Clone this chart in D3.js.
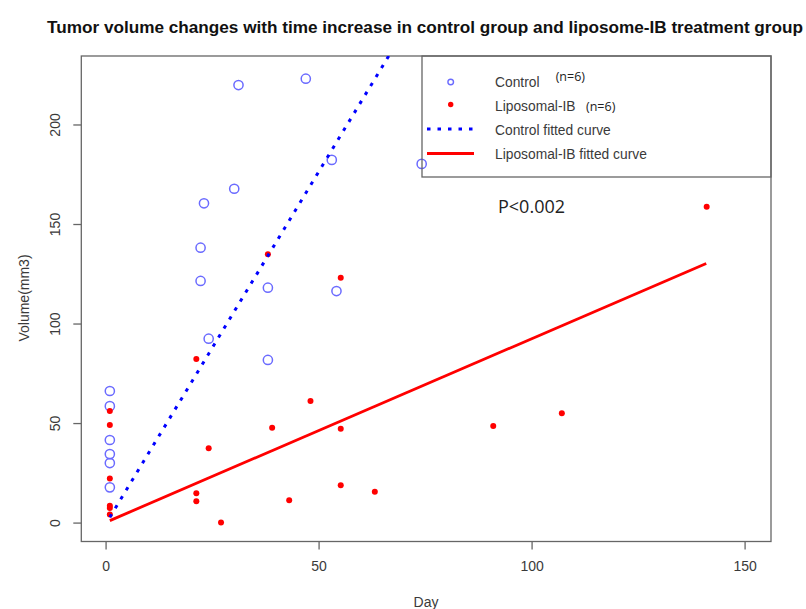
<!DOCTYPE html>
<html>
<head>
<meta charset="utf-8">
<script src="https://cdn.jsdelivr.net/npm/d3@7"></script>
<style>
  body { margin: 0; background: #fff; }
  svg { display: block; font-family: 'Liberation Sans', Arial, sans-serif; }
</style>
</head>
<body>
<svg id="chart" width="806" height="609"></svg>
<script>
// values
const controlDay = [1, 1, 1, 1, 1, 1, 31.2, 47, 53.1, 74.2, 30.2, 23.1, 22.3, 22.3, 38.1, 54.2, 24.2, 38.1];
const controlVolume = [66.1, 58.5, 41.5, 34.4, 29.9, 17.7, 219.8, 223, 182.2, 180.2, 167.7, 160.4, 138.1, 121.4, 118, 116.3, 92.4, 81.7];

const liposomalDay = [1, 1, 1, 1, 1, 1, 21.3, 21.3, 21.3, 24.2, 27.1, 38.1, 39.1, 43.1, 48.1, 55.2, 55.2, 55.2, 63.2, 91, 107.1, 141.1];
const liposomalVolume = [56, 49, 22.2, 8.5, 7.3, 4.1, 82.2, 14.7, 10.7, 37.4, 0, 134.8, 47.6, 11.2, 61.1, 123, 47.1, 18.7, 15.5, 48.5, 54.9, 158.7];

// fitted straight lines, end points
const fitDay = [1, 141];
const controlFitVolume = [2.7, 498.3];
const liposomalFitVolume = [1.0, 130.2];

const xTicks = [0, 50, 100, 150];
const yTicks = [0, 50, 100, 150, 200];

const legendLabels = ['Control', 'Liposomal-IB', 'Control fitted curve', 'Liposomal-IB fitted curve'];
const legendNotes = ['(n=6)', '(n=6)'];

const svg = d3.select('#chart');

const x = d3.scaleLinear().domain([-5.7, 156.2]).range([81.3, 771]);
const y = d3.scaleLinear().domain([-9.5, 234.4]).range([541.5, 56]);

const axisGrey = '#666',
  textGrey = '#3a3a3a',
  ctrlBlue = '#6b6bff';

svg.append('defs').append('clipPath')
  .attr('id', 'plotclip')
  .append('rect')
  .attr('x', x.range()[0])
  .attr('y', y.range()[1])
  .attr('width', x.range()[1] - x.range()[0])
  .attr('height', y.range()[0] - y.range()[1]);

// title
svg.append('text')
  .attr('x', 425)
  .attr('y', 33)
  .attr('text-anchor', 'middle')
  .attr('textLength', 756)
  .attr('lengthAdjust', 'spacingAndGlyphs')
  .style('font-size', '16px')
  .style('font-weight', 'bold')
  .style('fill', '#111')
  .text('Tumor volume changes with time increase in control group and liposome-IB treatment group');

// axes
const xAxis = svg.append('g')
  .attr('transform', 'translate(0,' + y.range()[0] + ')')
  .call(d3.axisBottom(x).tickValues(xTicks).tickSize(8).tickPadding(12));

const yAxis = svg.append('g')
  .attr('transform', 'translate(' + x.range()[0] + ',0)')
  .call(d3.axisLeft(y).tickValues(yTicks).tickSize(8));

[xAxis, yAxis].forEach(function(g) {
  g.select('.domain').remove();
  g.selectAll('line').attr('stroke', axisGrey).attr('stroke-width', 1.3);
  g.selectAll('text')
    .style('font-size', '14px')
    .style('font-family', "'Liberation Sans', Arial, sans-serif")
    .attr('fill', textGrey);
});

yAxis.selectAll('text')
  .attr('x', 0)
  .attr('y', 0)
  .attr('dy', '0.35em')
  .attr('text-anchor', 'middle')
  .attr('transform', 'translate(-26.3,0) rotate(-90)');

// plot box
svg.append('rect')
  .attr('x', x.range()[0])
  .attr('y', y.range()[1])
  .attr('width', x.range()[1] - x.range()[0])
  .attr('height', y.range()[0] - y.range()[1])
  .attr('fill', 'none')
  .attr('stroke', axisGrey)
  .attr('stroke-width', 1.3);

// axis titles
svg.append('text')
  .attr('x', 426)
  .attr('y', 602)
  .attr('dy', '0.35em')
  .attr('text-anchor', 'middle')
  .style('font-size', '14px')
  .style('fill', textGrey)
  .text('Day');

svg.append('text')
  .attr('transform', 'translate(24,298) rotate(-90)')
  .attr('dy', '0.35em')
  .attr('text-anchor', 'middle')
  .style('font-size', '14px')
  .style('fill', textGrey)
  .text('Volume(mm3)');

const plot = svg.append('g').attr('clip-path', 'url(#plotclip)');

// control points
plot.selectAll('circle.ctrl')
  .data(d3.zip(controlDay, controlVolume))
  .enter()
  .append('circle')
  .attr('class', 'ctrl')
  .attr('cx', function(d) { return x(d[0]); })
  .attr('cy', function(d) { return y(d[1]); })
  .attr('r', 4.6)
  .attr('fill', 'none')
  .attr('stroke', ctrlBlue)
  .attr('stroke-width', 1.5);

// liposomal points
plot.selectAll('circle.lipo')
  .data(d3.zip(liposomalDay, liposomalVolume))
  .enter()
  .append('circle')
  .attr('class', 'lipo')
  .attr('cx', function(d) { return x(d[0]); })
  .attr('cy', function(d) { return y(d[1]); })
  .attr('r', 3)
  .attr('fill', '#ff0000');

const line = d3.line()
  .x(function(d) { return x(d[0]); })
  .y(function(d) { return y(d[1]); });

plot.append('path')
  .attr('d', line(d3.zip(fitDay, controlFitVolume)))
  .attr('fill', 'none')
  .attr('stroke', '#0000ff')
  .attr('stroke-width', 3)
  .attr('stroke-dasharray', '3.5,7');

plot.append('path')
  .attr('d', line(d3.zip(fitDay, liposomalFitVolume)))
  .attr('fill', 'none')
  .attr('stroke', '#ff0000')
  .attr('stroke-width', 2.8);

// p value
svg.append('text')
  .attr('x', 498)
  .attr('y', 213)
  .attr('textLength', 67)
  .attr('lengthAdjust', 'spacingAndGlyphs')
  .style('font-family', "'Open Sans', 'Noto Sans', sans-serif")
  .style('font-size', '17.5px')
  .style('fill', '#222')
  .text('P<0.002');

// legend
const legend = svg.append('g');
legend.append('rect')
  .attr('x', 422)
  .attr('y', y.range()[1])
  .attr('width', x.range()[1] - 422)
  .attr('height', 121)
  .attr('fill', 'none')
  .attr('stroke', axisGrey)
  .attr('stroke-width', 1.3);

const rowY = [82, 106, 130, 154];

legend.append('circle')
  .attr('cx', 450.7).attr('cy', rowY[0]).attr('r', 2.8)
  .attr('fill', 'none').attr('stroke', ctrlBlue).attr('stroke-width', 1.4);
legend.append('circle')
  .attr('cx', 450.7).attr('cy', rowY[1] - 1.5).attr('r', 2.7)
  .attr('fill', '#ff0000');
legend.append('line')
  .attr('x1', 427).attr('x2', 474).attr('y1', rowY[2] - 1).attr('y2', rowY[2] - 1)
  .attr('stroke', '#0000ff').attr('stroke-width', 3).attr('stroke-dasharray', '3.5,7');
legend.append('line')
  .attr('x1', 427).attr('x2', 474).attr('y1', rowY[3] - 0.5).attr('y2', rowY[3] - 0.5)
  .attr('stroke', '#ff0000').attr('stroke-width', 2.8);

legend.selectAll('text.lab')
  .data(legendLabels)
  .enter()
  .append('text')
  .attr('class', 'lab')
  .attr('x', 495)
  .attr('y', function(d, i) { return rowY[i]; })
  .attr('dy', '0.35em')
  .style('font-size', '13.8px')
  .style('fill', textGrey)
  .text(function(d) { return d; });

const noteX = [555.7, 586];
const noteY = [76.5, 106.5];
legend.selectAll('text.note')
  .data(legendNotes)
  .enter()
  .append('text')
  .attr('class', 'note')
  .attr('x', function(d, i) { return noteX[i]; })
  .attr('y', function(d, i) { return noteY[i]; })
  .attr('dy', '0.35em')
  .style('font-family', "'Open Sans', 'Noto Sans', sans-serif")
  .style('font-size', '12.5px')
  .style('fill', '#222')
  .text(function(d) { return d; });
</script>
</body>
</html>
